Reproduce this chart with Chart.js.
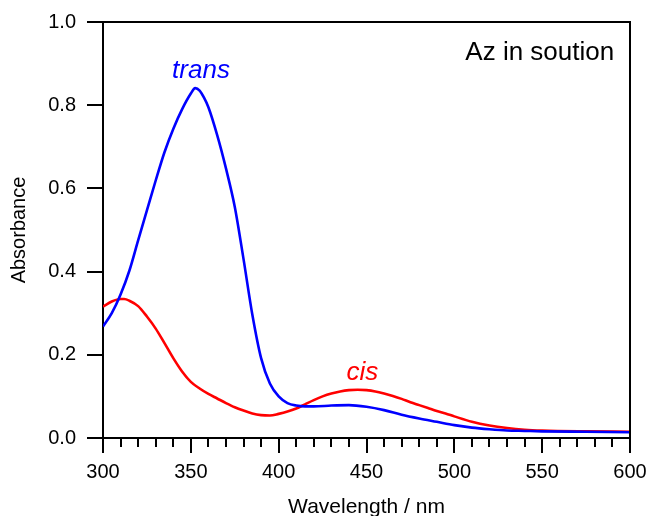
<!DOCTYPE html>
<html>
<head>
<meta charset="utf-8">
<script src="https://cdn.jsdelivr.net/npm/chart.js@4/dist/chart.umd.min.js"></script>
<style>
  html, body { margin: 0; padding: 0; background: #fff; }
  #wrap { width: 647px; height: 516px; }
</style>
</head>
<body>
<div id="wrap"><canvas id="absChart" width="647" height="516"></canvas></div>
<script>
// wavelength (nm) / absorbance
const transWl = [300, 305, 310, 315, 320, 325, 330, 335, 340, 345, 350, 352.5, 355, 357.5, 360, 365, 370, 375, 380, 385, 390, 395, 400, 405, 410, 415, 420, 430, 440, 450, 460, 470, 480, 490, 500, 510, 520, 530, 540, 550, 575, 600];
const transAbs = [0.268, 0.300, 0.345, 0.402, 0.475, 0.547, 0.619, 0.687, 0.743, 0.790, 0.828, 0.841, 0.835, 0.818, 0.795, 0.728, 0.648, 0.556, 0.430, 0.297, 0.192, 0.131, 0.100, 0.084, 0.078, 0.076, 0.076, 0.078, 0.079, 0.075, 0.067, 0.056, 0.047, 0.039, 0.031, 0.025, 0.021, 0.018, 0.017, 0.016, 0.015, 0.014];

const cisWl = [300, 305, 310, 312, 315, 320, 325, 330, 335, 340, 345, 350, 355, 360, 365, 370, 375, 380, 385, 390, 395, 400, 405, 410, 415, 420, 425, 430, 435, 440, 445, 450, 455, 460, 465, 470, 475, 480, 485, 490, 495, 500, 510, 520, 530, 540, 550, 575, 600];
const cisAbs = [0.316, 0.328, 0.334, 0.334, 0.330, 0.317, 0.292, 0.263, 0.228, 0.192, 0.160, 0.135, 0.119, 0.106, 0.095, 0.084, 0.074, 0.066, 0.059, 0.055, 0.054, 0.058, 0.0635, 0.071, 0.081, 0.091, 0.100, 0.107, 0.112, 0.115, 0.116, 0.115, 0.112, 0.107, 0.101, 0.094, 0.086, 0.079, 0.072, 0.065, 0.059, 0.052, 0.039, 0.030, 0.024, 0.020, 0.018, 0.016, 0.015];

const xMin = 300, xMax = 600, xMajorStep = 50, xMinorStep = 10;
const yMin = 0, yMax = 1.0, yStep = 0.2;

const labels = [
    { text: 'trans', wl: 355.8, abs: 0.883, color: '#0000ff', italic: true, align: 'center' },
    { text: 'cis', wl: 447.7, abs: 0.158, color: '#ff0000', italic: true, align: 'center' },
    { text: 'Az in soution', wl: 591, abs: 0.925, color: '#000000', italic: false, align: 'right' }
];

const FONT = 'Arial, "Liberation Sans", Helvetica, sans-serif';

function toPoints(xs, ys) {
    return xs.map((x, i) => ({ x: x, y: ys[i] }));
}

// frame + tick marks + text labels
const framePlugin = {
    id: 'frame',
    afterDraw(chart) {
        const ctx = chart.ctx;
        const area = chart.chartArea;
        const xs = chart.scales.x;
        const ys = chart.scales.y;
        ctx.save();
        ctx.strokeStyle = '#000';
        ctx.lineWidth = 2;
        ctx.beginPath();
        ctx.moveTo(area.left, area.top);
        ctx.lineTo(area.right, area.top);
        ctx.lineTo(area.right, area.bottom);
        ctx.stroke();

        ctx.beginPath();
        for (let v = xMin; v <= xMax; v += xMinorStep) {
            const px = Math.round(xs.getPixelForValue(v));
            const len = (v % xMajorStep === 0) ? 15 : 9;
            ctx.moveTo(px, area.bottom);
            ctx.lineTo(px, area.bottom + len);
        }
        for (let v = yMin; v <= yMax + 1e-9; v += yStep) {
            const py = Math.round(ys.getPixelForValue(v));
            ctx.moveTo(area.left, py);
            ctx.lineTo(area.left - 16, py);
        }
        ctx.stroke();

        ctx.textBaseline = 'middle';
        labels.forEach(l => {
            ctx.font = (l.italic ? 'italic ' : '') + '26px ' + FONT;
            ctx.fillStyle = l.color;
            ctx.textAlign = l.align;
            ctx.fillText(l.text, xs.getPixelForValue(l.wl), ys.getPixelForValue(l.abs));
        });
        ctx.restore();
    }
};

const ctx = document.getElementById('absChart').getContext('2d');
new Chart(ctx, {
    type: 'line',
    data: {
        datasets: [
            { label: 'trans', data: toPoints(transWl, transAbs), borderColor: '#0000ff', borderWidth: 2.6, pointRadius: 0, cubicInterpolationMode: 'monotone', fill: false },
            { label: 'cis', data: toPoints(cisWl, cisAbs), borderColor: '#ff0000', borderWidth: 2.6, pointRadius: 0, cubicInterpolationMode: 'monotone', fill: false }
        ]
    },
    options: {
        responsive: false,
        animation: false,
        layout: { padding: { top: 22, right: 17, left: 0, bottom: 0 } },
        plugins: { legend: { display: false }, tooltip: { enabled: false } },
        scales: {
            x: {
                type: 'linear',
                min: xMin, max: xMax,
                grid: { display: false, drawTicks: false },
                border: { display: true, color: '#000', width: 2 },
                ticks: {
                    stepSize: xMajorStep, color: '#000', padding: 22, maxRotation: 0,
                    font: { family: FONT, size: 20 },
                    callback: v => String(v)
                },
                title: { display: true, text: 'Wavelength / nm', color: '#000', font: { family: FONT, size: 21 }, padding: { top: 0, bottom: -4 } },
                afterFit: s => { s.height = 78; s.paddingLeft = 0; s.paddingRight = 0; }
            },
            y: {
                min: yMin, max: yMax,
                grid: { display: false, drawTicks: false },
                border: { display: true, color: '#000', width: 2 },
                ticks: {
                    stepSize: yStep, color: '#000', padding: 27,
                    font: { family: FONT, size: 20 },
                    callback: v => v.toFixed(1)
                },
                title: { display: true, text: 'Absorbance', color: '#000', font: { family: FONT, size: 20 }, padding: 7 },
                afterFit: s => { s.width = 103; s.paddingTop = 0; s.paddingBottom = 0; }
            }
        }
    },
    plugins: [framePlugin]
});
</script>
</body>
</html>
